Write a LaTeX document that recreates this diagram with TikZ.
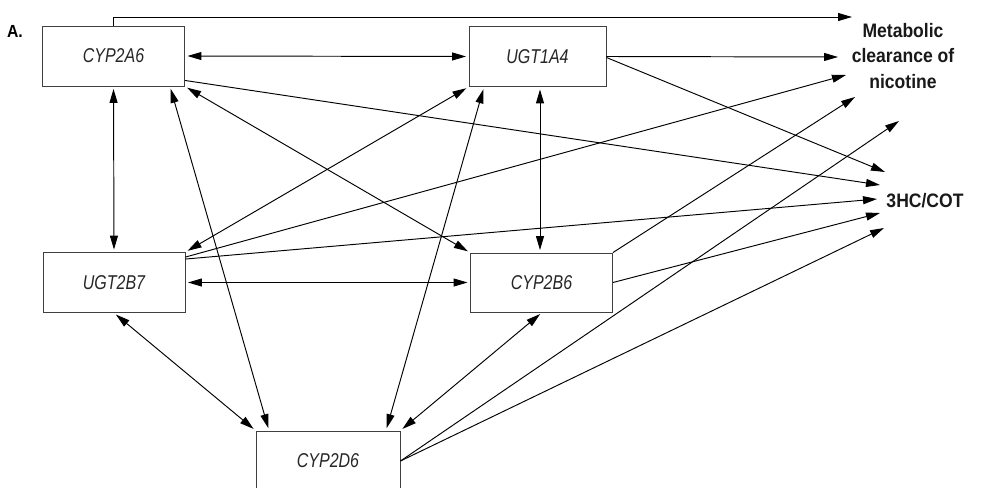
\documentclass[tikz,border=0pt]{standalone}
\usepackage{fontspec}
\setmainfont{Liberation Sans}
\newfontfamily\labfont[FakeStretch=0.8]{Liberation Sans}
\newfontfamily\boldlab[FakeStretch=0.9]{Liberation Sans}
\usetikzlibrary{arrows.meta,calc}
\tikzset{
  genebox/.style={draw=black!75,line width=0.9pt,rectangle,minimum width=142pt,minimum height=60pt,inner sep=0pt,
    font=\labfont\itshape\fontsize{20}{22}\selectfont,text=black!85},
  conn/.style={line width=0.95pt,black},
  tip/.style={-{Triangle[length=14pt,width=8pt]}},
  both/.style={{Triangle[length=14pt,width=8pt]}-{Triangle[length=14pt,width=8pt]}},
  outlab/.style={font=\boldlab\bfseries\fontsize{19.5}{25.5}\selectfont,align=center,inner sep=0pt,text=black!90}
}
\begin{document}
\begin{tikzpicture}[x=1pt,y=-1pt]
\useasboundingbox (0,0) rectangle (982,487);
\clip (0,0) rectangle (982,487);
\node[font=\boldlab\bfseries\fontsize{17.5}{20}\selectfont,inner sep=0pt] (lblA) at (15,31) {A.};
\node[genebox] (A) at (113.5,56) {CYP2A6};
\node[genebox,minimum width=137pt] (B) at (537.5,56.5) {UGT1A4};
\node[genebox] (C) at (114,282.5) {UGT2B7};
\node[genebox,minimum height=59pt] (D) at (541.5,282.5) {CYP2B6};
\node[genebox,minimum width=144pt] (E) at (328,461) {CYP2D6};
\node[outlab] (met) at (903,56) {Metabolic\\clearance of\\nicotine};
\node[outlab] (hc) at (925,201) {3HC/COT};
% free ends near outcomes
\coordinate (m1) at (852,17);
\coordinate (m2) at (838,57);
\coordinate (m3) at (846,75);
\coordinate (m4) at (855,97);
\coordinate (m5) at (899,121);
\coordinate (h1) at (885,172);
\coordinate (h2) at (880,185);
\coordinate (h3) at (877,199);
\coordinate (h4) at (880,213);
\coordinate (h5) at (884,228);
% outcome arrows
\draw[conn,tip] (A.north) |- (m1);
\draw[conn,tip] (B.east) -- (m2);
\draw[conn,tip] ([yshift=-1pt]B.east) -- (h1);
\draw[conn,tip] ([yshift=6pt]A.south east) -- (h2);
\draw[conn,tip] ([yshift=-5pt]C.north east) -- (m3);
\draw[conn,tip] ([yshift=-7pt]C.north east) -- (h3);
\draw[conn,tip] (D.north east) -- (m4);
\draw[conn,tip] (D.east) -- (h4);
\draw[conn,tip] (E.east) -- (m5);
\draw[conn,tip] (E.east) -- (h5);
% gene interactions
\draw[conn,both,shorten <=2.5pt,shorten >=2.5pt] (A.east) -- (B.west);
\draw[conn,both,shorten <=2.5pt,shorten >=2.5pt] (A.south) -- (C.north);
\draw[conn,both,shorten <=2.5pt,shorten >=2.5pt] ([xshift=56.5pt]A.south) -- ([xshift=-59pt]E.north);
\draw[conn,both,shorten <=2.5pt,shorten >=2.5pt] (A.south east) -- (D.north west);
\draw[conn,both,shorten <=2.5pt,shorten >=2.5pt] (B.south west) -- (C.north east);
\draw[conn,both,shorten <=2.5pt,shorten >=2.5pt] ([xshift=-53.5pt]B.south) -- ([xshift=58pt]E.north);
\draw[conn,both,shorten <=2.5pt,shorten >=2.5pt] ([xshift=2.5pt]B.south) -- ([xshift=-1.5pt]D.north);
\draw[conn,both,shorten <=2.5pt,shorten >=2.5pt] (C.east) -- (D.west);
\draw[conn,both,shorten <=2.5pt,shorten >=2.5pt] (C.south) -- (E.north west);
\draw[conn,both,shorten <=2.5pt,shorten >=2.5pt] ([xshift=0.5pt]D.south) -- (E.north east);
\end{tikzpicture}
\end{document}
